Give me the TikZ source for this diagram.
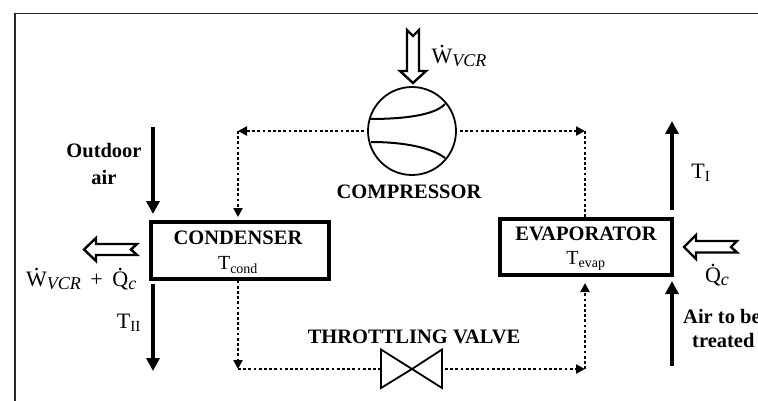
\documentclass[tikz,border=0pt]{standalone}
\usepackage{fontspec}
\setmainfont{Liberation Serif}
\usetikzlibrary{arrows.meta,calc}
\tikzset{
  x=1pt,y=-1pt,
  solidarrow/.style={line width=4.4pt,-{Triangle[width=13pt,length=13pt]}},
  refrig/.style={line width=2.7pt,dash pattern=on 2.8pt off 2.4pt},
  refhead/.style={-{Triangle[width=9pt,length=9pt]}},
  unit/.style={draw,line width=4pt,inner sep=0pt,minimum width=#1},
  hollow/.style={line width=2.4pt,fill=white,line join=miter},
  lab/.style={font=\fontsize{20.5}{23}\selectfont\bfseries,align=center,inner sep=0pt},
  sub/.style={font=\fontsize{20}{22}\selectfont,inner sep=0pt},
  big/.style={font=\fontsize{22}{24}\selectfont,inner sep=0pt},
  frameline/.style={line width=1.8pt,black!85},
}
\newcommand{\dotover}[1]{\ooalign{#1\cr\hidewidth\raisebox{0.72em}{.}\hidewidth\cr}}
\newcommand{\lowit}[1]{\textit{\raisebox{-3pt}{\fontsize{18}{20}\selectfont #1}}}
\begin{document}
\begin{tikzpicture}
\useasboundingbox (0,0) rectangle (758,401);
\clip (0,0) rectangle (758,401);
\draw[frameline] (15,401) -- (15,13.5) -- (758,13.5);

% units
\node[unit=178pt,minimum height=57pt] (cond) at (240,250) {};
\node[unit=172pt,minimum height=56pt] (evap) at (586,246.5) {};
\node[lab] (condlab) at (238,238) {CONDENSER};
\node[sub] (condT) at (238,265) {T\textsubscript{cond}};
\node[lab] (evaplab) at (586,234) {EVAPORATOR};
\node[sub] (evapT) at (586,261) {T\textsubscript{evap}};

% compressor
\node[draw,circle,line width=1.8pt,minimum size=88pt,inner sep=0pt] (comp) at (412,131) {};
\draw[line width=2pt] (370,119) .. controls (405,119) and (435,115) .. (445,104);
\draw[line width=2pt] (371,142) .. controls (405,142) and (432,148) .. (445,158);
\node[lab] (complab) at (409,192) {COMPRESSOR};

% valve
\coordinate (vc) at (412,369);
\draw[line width=1.8pt,line join=miter] (vc) -- (381,349.5) -- (381,388) -- (vc) -- (442,349.5) -- (442,388) -- cycle;
\coordinate (vl) at (380,369);
\coordinate (vr) at (445,369);
\node[lab] (valvelab) at (414,337) {THROTTLING VALVE};

% refrigerant circuit
\coordinate (c1) at (238,131);
\coordinate (c2) at (585,131);
\coordinate (c3) at (238,369);
\coordinate (c4) at (585,369);
\draw[refrig] (comp.west) ++(-3,0) -- (244,131);
\draw[refrig,refhead] (c1) ++(7,0) -- (c1);
\draw[refrig] (c1) -- (238,208);
\draw[refrig,refhead] (238,208) -- (238,217);
\draw[refrig] (comp.east) ++(3,0) -- (576,131);
\draw[refrig,refhead] (576,131) -- (c2);
\draw[refrig] (c2) -- (evap.north -| c2);
\draw[refrig] (cond.south -| c3) -- (238,360);
\draw[refrig,refhead] (238,360) -- (238,369);
\draw[refrig] (c3) -- (vl);
\draw[refrig] (vr) -- (576,369);
\draw[refrig,refhead] (576,369) -- (c4);
\draw[refrig] (c4) -- (585,292);
\draw[refrig,refhead] (585,292) -- (585,283);

% air streams
\coordinate (a1) at (153,127);
\coordinate (a2) at (153,214);
\coordinate (a3) at (153,284);
\coordinate (a4) at (153,371);
\coordinate (a5) at (672,210);
\coordinate (a6) at (672,121);
\coordinate (a7) at (672,366);
\coordinate (a8) at (672,281);
\draw[solidarrow] (a1) -- (a2);
\draw[solidarrow] (a3) -- (a4);
\draw[solidarrow] (a5) -- (a6);
\draw[solidarrow] (a7) -- (a8);

% hollow power/heat arrows
\draw[hollow] (413,83) -- (400,71) -- (407,71) -- (407,30) -- (413,36) -- (419,30) -- (419,71) -- (426,71) -- cycle;
\draw[hollow] (84,249.5) -- (96,238) -- (96,244) -- (137,244) -- (131,249.5) -- (137,255) -- (96,255) -- (96,261) -- cycle;
\draw[hollow] (684,247) -- (696,235) -- (696,241) -- (737,241) -- (731,247) -- (737,252.5) -- (696,252.5) -- (696,259) -- cycle;

% labels
\node[lab] (outdoor) at (104,151) {Outdoor};
\node[lab] (air) at (104,177) {air};
\node[big] (w) at (459,58) {\dotover{W}\lowit{VCR}};
\node[big,anchor=west] (wq) at (26,281) {\dotover{W}\lowit{VCR}\hspace{4pt} + \hspace{4pt}\dotover{Q}\lowit{c}};
\node[big] (qc) at (717,277) {\dotover{Q}\lowit{c}};
\node[big] (t2) at (129,323) {T\textsubscript{II}};
\node[big] (t1) at (701,173) {T\textsubscript{I}};
\node[lab,anchor=west] (air1) at (683,316) {Air to be};
\node[lab,anchor=west] (air2) at (692,340) {treated};
\end{tikzpicture}
\end{document}
